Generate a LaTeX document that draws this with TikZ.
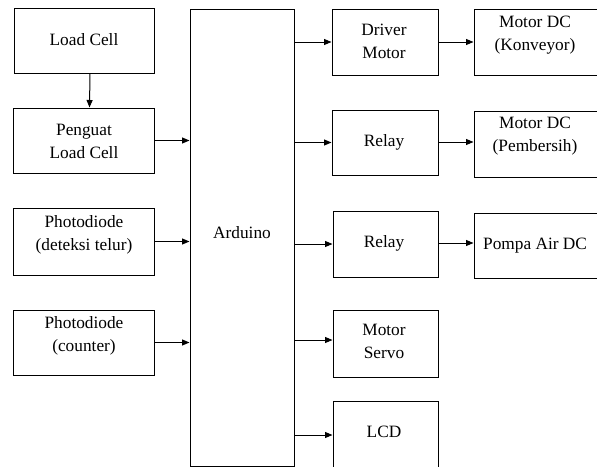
\documentclass[tikz,border=0pt]{standalone}
\usepackage{fontspec}
\setmainfont{Liberation Serif}
\usetikzlibrary{arrows.meta}
\begin{document}
\begin{tikzpicture}[x=1pt,y=-1pt,
  box/.style n args={2}{draw, line width=1pt, inner sep=0pt, minimum width=#1, minimum height=#2},
  txt/.style={font=\fontsize{17.3}{23}\selectfont, align=center, inner sep=0pt},
  arr/.style={line width=1pt, -{Triangle[length=7.5pt,width=6pt]}}]
\fill[white] (0,0) rectangle (597,466);
\useasboundingbox (0,0) rectangle (597,466);
\clip (0,0) rectangle (597,466);
% left column
\node[box={140}{65}] (lc) at (84,40.5) {};
\node[box={141}{65}] (pg) at (83.5,140.5) {};
\node[box={141}{67}] (pd1) at (83.5,241.5) {};
\node[box={141}{65}] (pd2) at (83.5,342.5) {};
% arduino
\node[box={104}{457}] (ard) at (242,237.5) {};
% middle column
\node[box={106}{66}] (dm) at (385,42) {};
\node[box={106}{65}] (r1) at (385,142.5) {};
\node[box={105}{66}] (r2) at (385.5,244) {};
\node[box={105}{67}] (ms) at (385.5,343.5) {};
\node[box={105}{74}] (lcd) at (385.5,438) {};
% right column
\node[box={124}{66}] (m1) at (536,42) {};
\node[box={124}{66}] (m2) at (536,144) {};
\node[box={124}{65}] (pa) at (536,245.5) {};
% texts
\node[txt] (tlc) at (84,40) {Load Cell};
\node[txt] (tpg) at (84,141) {Penguat\\Load Cell};
\node[txt] (tpd1) at (84,234.5) {Photodiode\\(deteksi telur)};
\node[txt] (tpd2) at (84,335.5) {Photodiode\\(counter)};
\node[txt] (tard) at (242,233) {Arduino};
\node[txt] (tdm) at (384,41.5) {Driver\\Motor};
\node[txt] (tr1) at (384,142) {Relay};
\node[txt] (tr2) at (384,243) {Relay};
\node[txt] (tms) at (384,341.5) {Motor\\Servo};
\node[txt] (tlcd) at (384,432) {LCD};
\node[txt] (tm1) at (535,35) {Motor DC\\(Konveyor)};
\node[txt] (tm2) at (535,136.5) {Motor DC\\(Pembersih)};
\node[txt, anchor=west] (tpa) at (483,246) {Pompa Air DC};
% connectors
\draw[arr] ([xshift=6pt]lc.south) -- ([xshift=6pt]pg.north);
\draw[arr] (pg.east) -- (ard.west |- pg.east);
\draw[arr] (pd1.east) -- (ard.west |- pd1.east);
\draw[arr] (pd2.east) -- (ard.west |- pd2.east);
\draw[arr] (ard.east |- dm.west) -- (dm.west);
\draw[arr] (ard.east |- r1.west) -- (r1.west);
\draw[arr] (ard.east |- r2.west) -- (r2.west);
\draw[arr] (ard.east |- 0,340) -- (ms.west |- 0,340);
\draw[arr] (ard.east |- 0,435) -- (lcd.west |- 0,435);
\draw[arr] (dm.east) -- (m1.west |- dm.east);
\draw[arr] (r1.east |- 0,142) -- (m2.west |- 0,142);
\draw[arr] (r2.east |- 0,243) -- (pa.west |- 0,243);
\end{tikzpicture}
\end{document}
